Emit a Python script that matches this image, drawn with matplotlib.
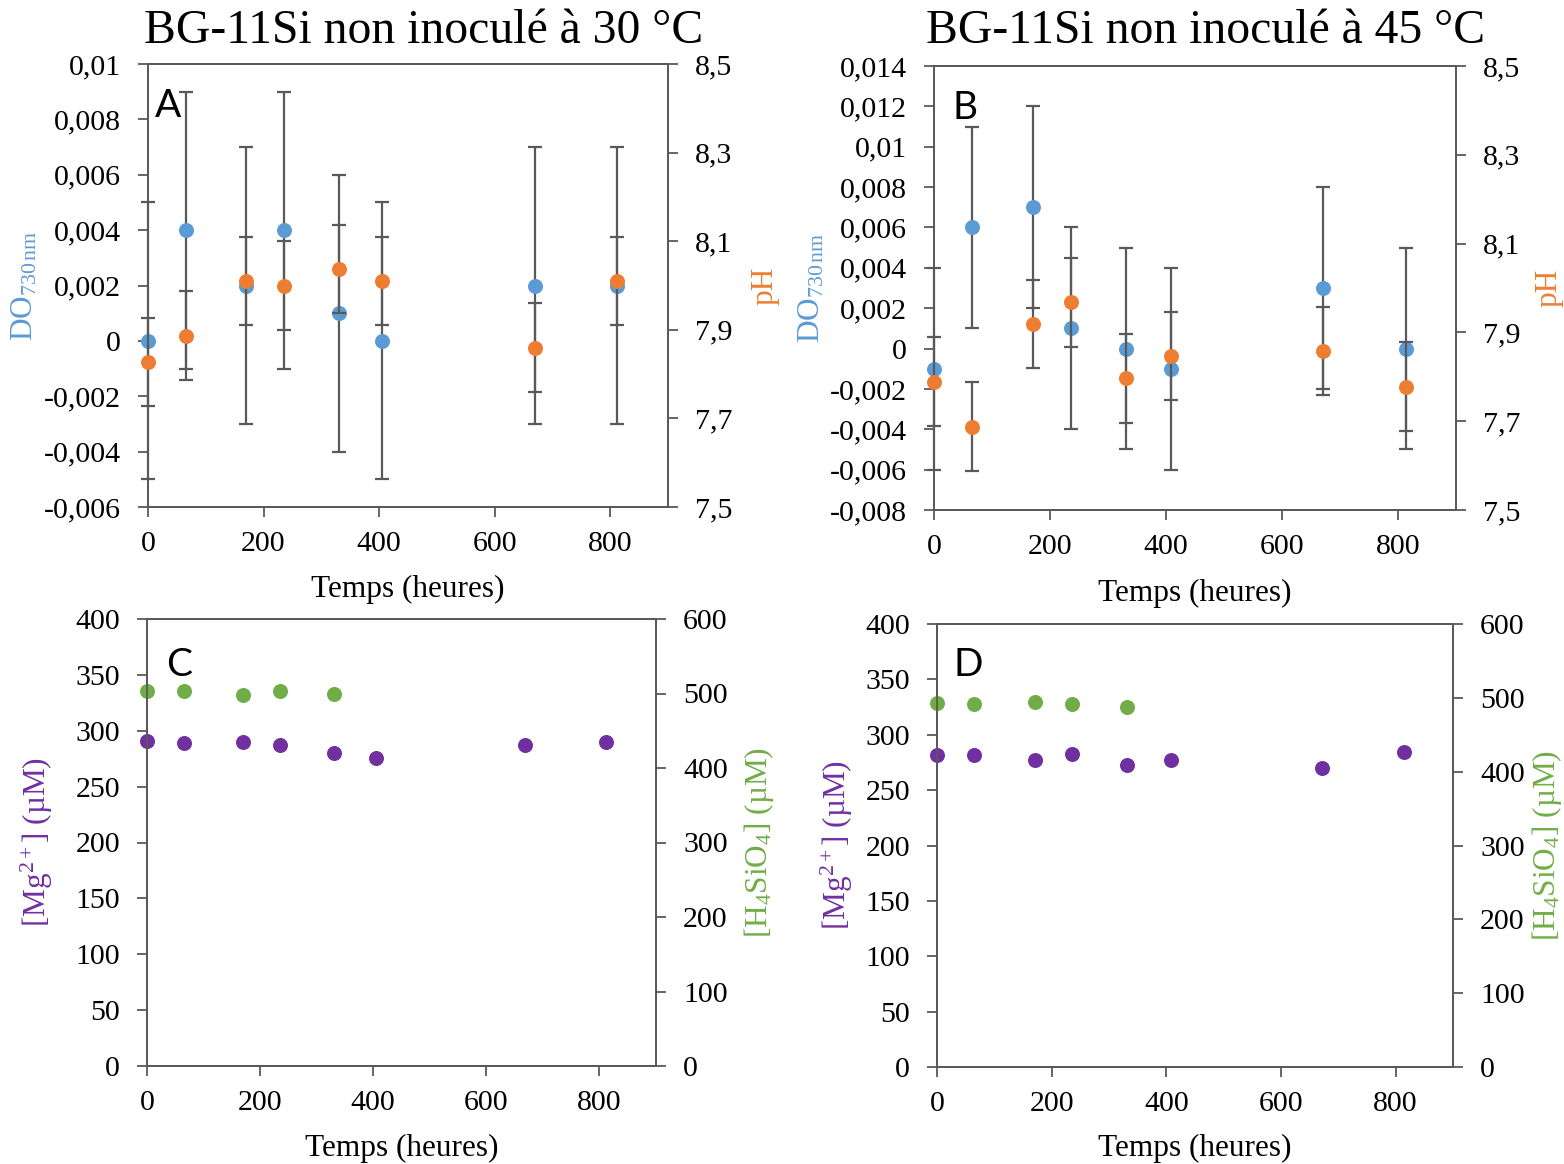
import matplotlib
matplotlib.use("Agg")
import matplotlib.pyplot as plt
from matplotlib.ticker import FuncFormatter, MultipleLocator

plt.rcParams['font.family'] = ['Liberation Serif', 'DejaVu Serif']
plt.rcParams['mathtext.fontset'] = 'custom'
plt.rcParams['mathtext.rm'] = 'Liberation Serif'
plt.rcParams['mathtext.it'] = 'Liberation Serif:italic'
plt.rcParams['mathtext.default'] = 'rm'

# ---------------- data ----------------
time_30 = [0, 66, 169, 236, 331, 405, 669, 812]
do_30 = [0.0, 0.004, 0.002, 0.004, 0.001, 0.0, 0.002, 0.002]
do_err_30 = [0.005] * 8
ph_30 = [7.827, 7.887, 8.01, 8.0, 8.037, 8.01, 7.86, 8.01]
ph_err_30 = [0.1] * 8

time_45 = [0, 65, 171, 236, 331, 409, 671, 814]
do_45 = [-0.001, 0.006, 0.007, 0.001, 0.0, -0.001, 0.003, 0.0]
do_err_45 = [0.005] * 8
ph_45 = [7.789, 7.688, 7.919, 7.968, 7.797, 7.847, 7.858, 7.778]
ph_err_45 = [0.1] * 8

mg_30 = [291, 289, 290, 287, 280, 276, 287, 290]
si_time_30 = [0, 66, 169, 236, 331]
si_30 = [503, 504, 498, 504, 499]

mg_45 = [282, 282, 277, 283, 273, 277, 270, 284]
si_time_45 = [0, 65, 171, 236, 331]
si_45 = [493, 492, 494, 491, 488]

titles = ["BG-11Si non inoculé à 30 °C", "BG-11Si non inoculé à 45 °C"]
panel_letters = ["A", "B", "C", "D"]
xlabel = "Temps (heures)"

BLUE = '#5B9BD5'
ORANGE = '#ED7D31'
PURPLE = '#7030A0'
GREEN = '#70AD47'
ERRC = '#595959'
SPINE = '#595959'
SERIF = 'Liberation Serif'

W, H = 1564, 1164
fig = plt.figure(figsize=(W / 100, H / 100), dpi=100)


def px_axes(l, r, t, b):
    return fig.add_axes([l / W, 1 - b / H, (r - l) / W, (b - t) / H])


def fmt(v, pos):
    s = f"{round(v, 6):g}"
    if s == "-0":
        s = "0"
    return s.replace('.', ',')


TICKFS = 21.5
LABFS = 22.5
MS = 10.8


def style(ax, ax2):
    for a in (ax, ax2):
        for sp in a.spines.values():
            sp.set_color(SPINE)
            sp.set_linewidth(1.3)
        a.tick_params(direction='out', length=7.5, width=1.3, color=SPINE,
                      labelsize=TICKFS, pad=12, labelfontfamily=SERIF)
        a.yaxis.set_major_formatter(FuncFormatter(fmt))
    ax.set_xlim(0, 900)
    ax.xaxis.set_major_locator(MultipleLocator(200))
    ax.xaxis.set_major_formatter(FuncFormatter(fmt))
    ax.tick_params(axis='x', pad=10)
    ax.set_xlabel(xlabel, fontsize=LABFS, va='center', family=SERIF)


def top_panel(rect, t, do, doe, ph, phe, ylo, yhi, ystep, letter, letter_x, lab_pos, title, title_x):
    ax = px_axes(*rect)
    ax2 = ax.twinx()
    ax.errorbar(t, do, yerr=doe, fmt='none', ecolor=ERRC, elinewidth=1.6,
                capsize=4.8, capthick=1.6, zorder=2, clip_on=False)
    ax.plot(t, do, 'o', color=BLUE, ms=MS, mec='none', zorder=3, clip_on=False)
    ax2.errorbar(t, ph, yerr=phe, fmt='none', ecolor=ERRC, elinewidth=1.6,
                 capsize=4.8, capthick=1.6, zorder=2, clip_on=False)
    ax2.plot(t, ph, 'o', color=ORANGE, ms=MS, mec='none', zorder=3, clip_on=False)
    ax.set_ylim(ylo, yhi)
    ax.yaxis.set_major_locator(MultipleLocator(ystep))
    ax2.set_ylim(7.5, 8.5)
    ax2.set_yticks([7.5, 7.7, 7.9, 8.1, 8.3, 8.5])
    style(ax, ax2)
    ax.set_ylabel(r'DO$_{\mathregular{730\,nm}}$', color=BLUE, fontsize=LABFS, va='center')
    ax2.set_ylabel('pH', color=ORANGE, fontsize=LABFS, va='center', rotation=90)
    ax.yaxis.set_label_coords(lab_pos[0], 0.5)
    ax2.yaxis.set_label_coords(lab_pos[1], 0.5)
    ax.xaxis.set_label_coords(0.5, -0.187)
    ax2.text(letter_x, 0.945, letter, transform=ax.transAxes, fontsize=28,
             family=['Lato', 'DejaVu Sans'], va='top', ha='left', zorder=5)
    fig.text(title_x / W, 1 - 31 / H, title, fontsize=34.3, ha='center', va='center')
    return ax, ax2


def bottom_panel(rect, t, mg, st, si, letter, letter_x, letter_y, lab_pos):
    ax = px_axes(*rect)
    ax2 = ax.twinx()
    ax.plot(t, mg, 'o', color=PURPLE, ms=MS, mec='none', clip_on=False)
    ax2.plot(st, si, 'o', color=GREEN, ms=MS, mec='none', clip_on=False)
    ax.set_ylim(0, 400)
    ax.yaxis.set_major_locator(MultipleLocator(50))
    ax2.set_ylim(0, 600)
    ax2.yaxis.set_major_locator(MultipleLocator(100))
    style(ax, ax2)
    ax.set_ylabel(r'[Mg$^{2+}$] (µM)', color=PURPLE, fontsize=LABFS, va='center')
    ax2.set_ylabel(r'[H$_4$SiO$_4$] (µM)', color=GREEN, fontsize=LABFS, va='center', rotation=90)
    ax.yaxis.set_label_coords(lab_pos[0], 0.5)
    ax2.yaxis.set_label_coords(lab_pos[1], 0.5)
    ax.xaxis.set_label_coords(0.5, -0.185)
    ax2.text(letter_x, letter_y, letter, transform=ax.transAxes, fontsize=28,
             family=['Lato', 'DejaVu Sans'], va='top', ha='left', zorder=5)
    return ax, ax2


top_panel((148, 668, 64, 507), time_30, do_30, do_err_30, ph_30, ph_err_30,
          -0.006, 0.01, 0.002, panel_letters[0], 0.014, (-0.237, 1.187), titles[0], 424)
top_panel((934, 1456, 66, 510), time_45, do_45, do_err_45, ph_45, ph_err_45,
          -0.008, 0.014, 0.002, panel_letters[1], 0.036, (-0.234, 1.178), titles[1], 1206)
bottom_panel((147, 656, 619, 1066), time_30, mg_30, si_time_30, si_30,
             panel_letters[2], 0.038, 0.937, (-0.216, 1.202))
bottom_panel((937, 1453, 624, 1067), time_45, mg_45, si_time_45, si_45,
             panel_letters[3], 0.032, 0.948, (-0.194, 1.183))

fig.savefig('out.png', dpi=100)
